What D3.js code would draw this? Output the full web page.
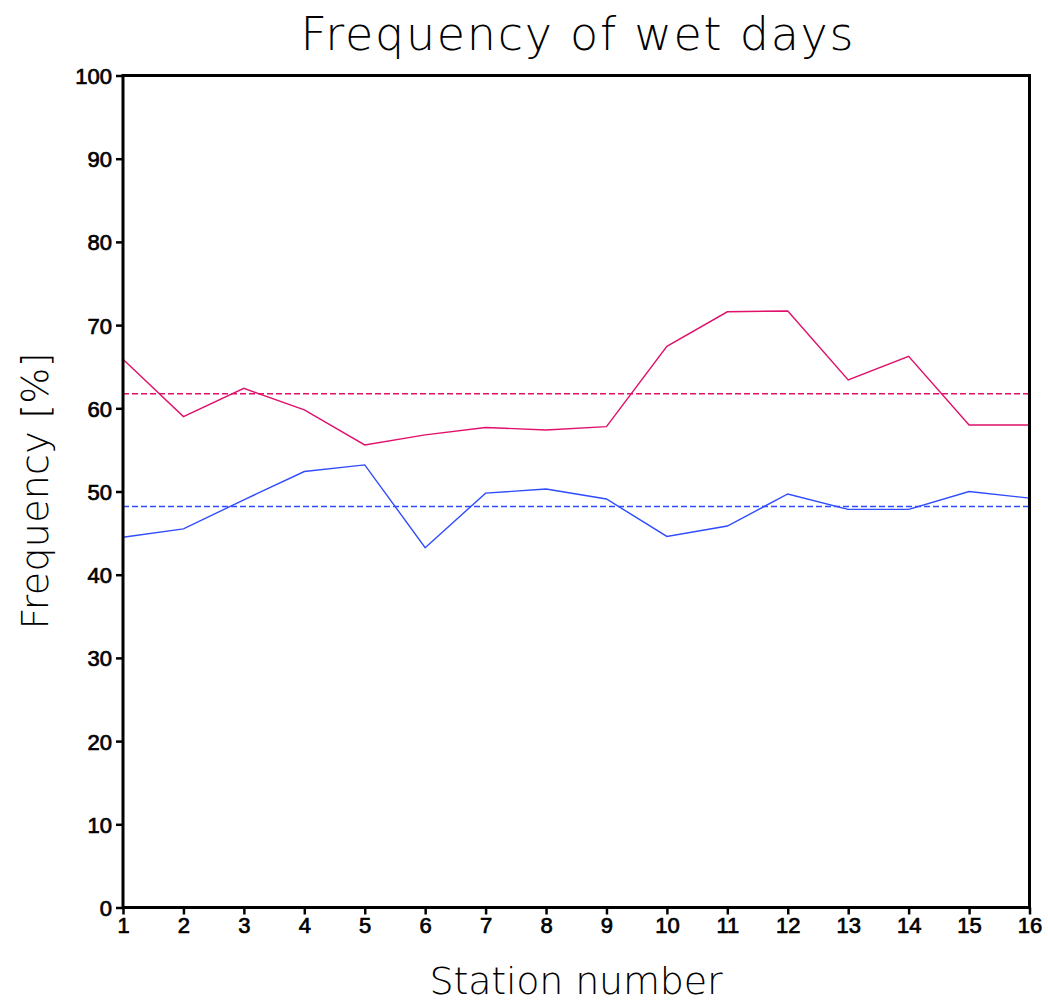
<!DOCTYPE html>
<html>
<head>
<meta charset="utf-8">
<script src="https://cdn.jsdelivr.net/npm/d3@7"></script>
<style>
  body { margin: 0; background: #fff; }
  svg { display: block; }
</style>
</head>
<body>
<svg id="chart" width="1048" height="1003"></svg>
<script>
const stations = [1,2,3,4,5,6,7,8,9,10,11,12,13,14,15,16];
const redValues = [65.9,59.0,62.4,59.8,55.6,56.8,57.7,57.4,57.8,67.45,71.6,71.7,63.4,66.25,58.0,58.0];
const blueValues = [44.5,45.5,49.0,52.4,53.2,43.25,49.8,50.3,49.1,44.6,45.85,49.7,47.85,47.85,50.0,49.2];
const redMean = 61.75;
const blueMean = 48.2;
const yTicks = [0,10,20,30,40,50,60,70,80,90,100];
const titleText = "Frequency of wet days";
const xLabel = "Station number";
const yLabel = "Frequency [%]";

const svg = d3.select("#chart");
const L = 123, R = 1029.5, T = 75.5, B = 907.5;
const x = d3.scaleLinear().domain([1,16]).range([L,R]);
const y = d3.scaleLinear().domain([0,100]).range([B,T]);
const redC = "#e0116a", blueC = "#2f4cff";

const fontT = "'DejaVu Sans', sans-serif";

// lines
const line = d3.line().x((d,i)=>x(stations[i])).y(d=>y(d));
svg.append("path").datum(redValues).attr("d", line)
  .attr("fill","none").attr("stroke",redC).attr("stroke-width",1.4);
svg.append("path").datum(blueValues).attr("d", line)
  .attr("fill","none").attr("stroke",blueC).attr("stroke-width",1.4);
// mean lines
[[redMean,redC],[blueMean,blueC]].forEach(([m,c])=>{
  svg.append("line").attr("x1",L).attr("x2",R).attr("y1",y(m)).attr("y2",y(m))
    .attr("stroke",c).attr("stroke-width",1.4).attr("stroke-dasharray","6,3");
});

// frame
svg.append("rect").attr("x",L).attr("y",T).attr("width",R-L).attr("height",B-T)
  .attr("fill","none").attr("stroke","#000").attr("stroke-width",3);

// axes
const yAxis = d3.axisLeft(y).tickValues(yTicks).tickSize(7).tickPadding(4).tickFormat(d3.format("d"));
const gy = svg.append("g").attr("transform",`translate(${L},0)`).call(yAxis);
const xAxis = d3.axisBottom(x).tickValues(stations).tickSize(7).tickPadding(3).tickFormat(d3.format("d"));
const gx = svg.append("g").attr("transform",`translate(0,${B})`).call(xAxis);
[gy,gx].forEach(g=>{
  g.select(".domain").remove();
  g.selectAll(".tick line").attr("stroke","#000").attr("stroke-width",2.5);
  g.selectAll(".tick text").attr("fill","#000").attr("stroke","#000").attr("stroke-width",0.7)
    .style("font-family","'Liberation Sans', sans-serif").style("font-size","22px").style("font-weight","normal");
});
gy.selectAll(".tick text").attr("dy","0.36em");

// title
svg.append("text").attr("x",577).attr("y",50).attr("text-anchor","middle")
  .style("font-family",fontT).style("font-size","46px").style("font-weight","300")
  .attr("textLength",553).attr("lengthAdjust","spacing")
  .text(titleText);
// x label
svg.append("text").attr("x",576).attr("y",994).attr("text-anchor","middle")
  .style("font-family",fontT).style("font-size","38px").style("font-weight","300")
  .attr("textLength",293).attr("lengthAdjust","spacing")
  .text(xLabel);
// y label
svg.append("text").attr("transform","translate(48,491) rotate(-90)").attr("text-anchor","middle")
  .style("font-family",fontT).style("font-size","38px").style("font-weight","300")
  .attr("textLength",277).attr("lengthAdjust","spacing")
  .text(yLabel);
</script>
</body>
</html>
